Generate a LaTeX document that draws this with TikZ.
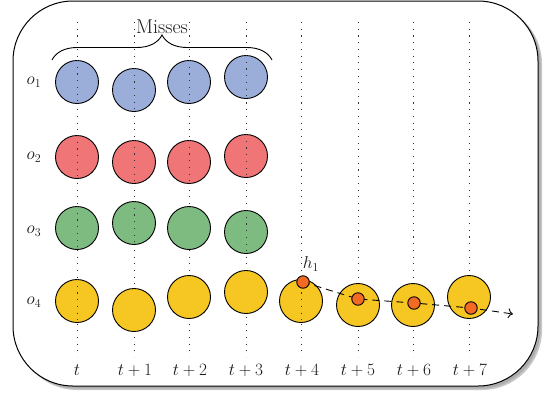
\documentclass[tikz,border=0pt]{standalone}
\usetikzlibrary{decorations.pathreplacing,arrows.meta}
\definecolor{objblue}{RGB}{155,174,218}
\definecolor{objred}{RGB}{239,117,119}
\definecolor{objgreen}{RGB}{125,187,128}
\definecolor{objyellow}{RGB}{246,198,35}
\definecolor{hitorange}{RGB}{243,106,37}
\begin{document}
\begin{tikzpicture}[x=1pt,y=-1pt,
  obj/.style={circle,draw=black,line width=0.9pt,minimum size=43pt,inner sep=0pt},
  hyp/.style={circle,draw=black,line width=0.9pt,fill=hitorange,minimum size=12.5pt,inner sep=0pt},
  timeline/.style={line width=0.9pt,dash pattern=on 1.1pt off 5.6pt,black!80},
  lbl/.style={font=\fontsize{18.5}{21}\selectfont,text=black!90,inner sep=0pt}]
\useasboundingbox (0,0) rectangle (545,394);
% frame with drop shadow
\fill[black!22] (17,4) [rounded corners=60pt] rectangle (542,390);
\fill[black!32] (16,3) [rounded corners=60pt] rectangle (540.5,388.5);
\draw[fill=white,line width=1pt] (13,1) [rounded corners=60pt] rectangle (538,386);
% time columns
\foreach \i/\x in {0/77,1/134,2/189,3/246,4/301,5/358,6/413,7/469}{
  \coordinate (top\i) at (\x,22);
  \coordinate (bot\i) at (\x,357);
  \draw[timeline] (top\i) -- (bot\i);
}
% column labels
\node[lbl] (l0) at (77,370) {$t$};
\node[lbl] (l1) at (135,370) {$t+1$};
\node[lbl] (l2) at (190,370) {$t+2$};
\node[lbl] (l3) at (246,370) {$t+3$};
\node[lbl] (l4) at (302,370) {$t+4$};
\node[lbl] (l5) at (358,370) {$t+5$};
\node[lbl] (l6) at (414,370) {$t+6$};
\node[lbl] (l7) at (470,370) {$t+7$};
% row labels
\node[lbl] (o1) at (34,82) {$o_1$};
\node[lbl] (o2) at (34,157) {$o_2$};
\node[lbl] (o3) at (34,231) {$o_3$};
\node[lbl] (o4) at (34,302) {$o_4$};
% objects (the flag marks circles where the time line shows on top)
\foreach \name/\x/\y/\col/\dots in {
  a0/77/82/objblue/1, a1/134/90/objblue/1, a2/189/82/objblue/1, a3/246/77/objblue/1,
  b0/77/157/objred/1, b1/134/162/objred/1, b2/189/162/objred/1, b3/246/156/objred/1,
  c0/77/228/objgreen/1, c1/134/223/objgreen/1, c2/189/228/objgreen/0, c3/246/232/objgreen/1,
  d0/77/301/objyellow/1, d1/134/310/objyellow/0, d2/189/297/objyellow/0, d3/246/292/objyellow/0,
  d4/301/301/objyellow/1, d5/358/305/objyellow/0, d6/413/305/objyellow/0, d7/469/297/objyellow/0}{
  \node[obj,fill=\col] (\name) at (\x,\y) {};
  \ifnum\dots=1
    \draw[timeline] (\name.north) -- (\name.south);
  \fi
}
% missed frames
\draw[line width=0.9pt,decorate,decoration={brace,amplitude=25pt}] (52,60) -- (272,60)
  node[lbl,font=\fontsize{20}{22}\selectfont,midway,above=26pt] (miss) {Misses};
% track of the hypothesis
\coordinate (h4) at (303,282);
\coordinate (h5) at (358,299);
\coordinate (h6) at (414,303);
\coordinate (h7) at (471,308);
\coordinate (hend) at (513,314);
\draw[line width=0.9pt,dash pattern=on 7pt off 5pt,-{To[length=5pt,width=10pt]}]
  (h4) -- (h5) -- (h6) -- (h7) -- (hend);
\foreach \k in {4,5,6,7}{\node[hyp] (hyp\k) at (h\k) {};}
\node[lbl] (hlabel) at (311,264) {$h_1$};
\end{tikzpicture}
\end{document}
